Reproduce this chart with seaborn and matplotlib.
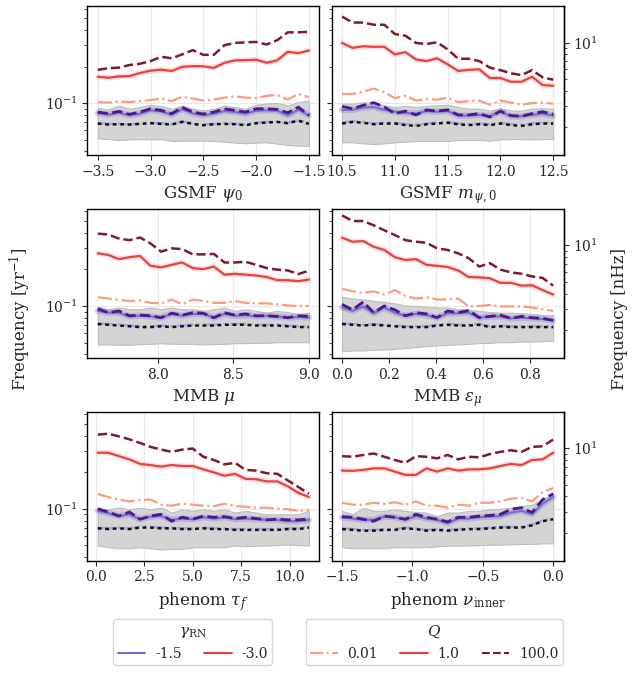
import numpy as np
import pandas as pd
import seaborn as sns
import matplotlib
matplotlib.use("Agg")
import matplotlib.pyplot as plt
from matplotlib.lines import Line2D

# ---------------- data (frequency in yr^-1) ----------------
psi0_x = [-3.5, -3.4, -3.3, -3.2, -3.1, -3.0, -2.9, -2.8, -2.7, -2.6, -2.5, -2.4, -2.3, -2.2, -2.1, -2.0, -1.9, -1.8, -1.7, -1.6, -1.5]
psi0_r100 = [0.188, 0.194, 0.196, 0.206, 0.211, 0.222, 0.241, 0.234, 0.252, 0.273, 0.250, 0.250, 0.300, 0.313, 0.317, 0.319, 0.304, 0.330, 0.383, 0.383, 0.387]
psi0_r1 = [0.165, 0.162, 0.166, 0.167, 0.177, 0.185, 0.189, 0.184, 0.199, 0.202, 0.201, 0.195, 0.215, 0.225, 0.226, 0.228, 0.215, 0.225, 0.265, 0.258, 0.271]
psi0_r001 = [0.102, 0.101, 0.103, 0.102, 0.104, 0.106, 0.109, 0.104, 0.113, 0.109, 0.105, 0.107, 0.111, 0.114, 0.111, 0.110, 0.115, 0.117, 0.107, 0.119, 0.112]
psi0_p100 = [0.0845, 0.0819, 0.0856, 0.0809, 0.0845, 0.0899, 0.0872, 0.0819, 0.0922, 0.0845, 0.0814, 0.0845, 0.0899, 0.0872, 0.0845, 0.0899, 0.0899, 0.0888, 0.0834, 0.0928, 0.0794]
psi0_p1 = [0.0829, 0.0803, 0.0834, 0.0794, 0.0819, 0.0872, 0.0856, 0.0803, 0.0889, 0.0824, 0.0794, 0.0819, 0.0861, 0.0845, 0.0819, 0.0866, 0.0872, 0.0866, 0.0794, 0.0883, 0.0794]
psi0_p001 = [0.0688, 0.0675, 0.0679, 0.0667, 0.0679, 0.0692, 0.0684, 0.0671, 0.0710, 0.0679, 0.0667, 0.0675, 0.0684, 0.0675, 0.0667, 0.0688, 0.0701, 0.0701, 0.0688, 0.0723, 0.0692]
psi0_base = [0.0679, 0.0667, 0.0671, 0.0667, 0.0675, 0.0684, 0.0675, 0.0667, 0.0701, 0.0675, 0.0658, 0.0671, 0.0675, 0.0671, 0.0658, 0.0684, 0.0692, 0.0701, 0.0684, 0.0718, 0.0675]
psi0_hi = [0.0911, 0.0888, 0.0957, 0.0899, 0.0928, 0.0969, 0.0945, 0.0899, 0.0957, 0.0899, 0.0872, 0.0899, 0.0957, 0.0928, 0.0899, 0.0969, 0.0994, 0.1006, 0.0957, 0.1019, 0.1051]
psi0_lo = [0.0513, 0.0506, 0.0497, 0.0503, 0.0506, 0.0503, 0.0506, 0.0488, 0.0491, 0.0491, 0.0491, 0.0488, 0.0482, 0.0473, 0.0467, 0.0473, 0.0476, 0.0464, 0.0453, 0.0447, 0.0444]

mpsi_x = [10.5, 10.6, 10.7, 10.8, 10.9, 11.0, 11.1, 11.2, 11.3, 11.4, 11.5, 11.6, 11.7, 11.8, 11.9, 12.0, 12.1, 12.2, 12.3, 12.4, 12.5]
mpsi_r100 = [0.516, 0.461, 0.461, 0.442, 0.442, 0.371, 0.359, 0.313, 0.307, 0.317, 0.277, 0.232, 0.232, 0.222, 0.196, 0.187, 0.176, 0.170, 0.187, 0.163, 0.156]
mpsi_r1 = [0.313, 0.285, 0.294, 0.291, 0.291, 0.252, 0.263, 0.229, 0.222, 0.234, 0.209, 0.184, 0.188, 0.190, 0.161, 0.161, 0.150, 0.150, 0.165, 0.141, 0.139]
mpsi_r001 = [0.119, 0.119, 0.124, 0.132, 0.123, 0.110, 0.115, 0.105, 0.108, 0.107, 0.111, 0.102, 0.104, 0.105, 0.097, 0.105, 0.101, 0.097, 0.100, 0.101, 0.099]
mpsi_p100 = [0.094, 0.090, 0.096, 0.101, 0.093, 0.082, 0.086, 0.080, 0.088, 0.086, 0.088, 0.080, 0.080, 0.082, 0.077, 0.086, 0.079, 0.078, 0.082, 0.085, 0.081]
mpsi_p1 = [0.088, 0.088, 0.092, 0.093, 0.088, 0.085, 0.083, 0.082, 0.086, 0.085, 0.086, 0.079, 0.079, 0.080, 0.078, 0.085, 0.078, 0.078, 0.080, 0.082, 0.079]
mpsi_base = [0.068, 0.070, 0.069, 0.067, 0.068, 0.068, 0.066, 0.065, 0.067, 0.068, 0.069, 0.067, 0.066, 0.067, 0.066, 0.068, 0.066, 0.065, 0.067, 0.068, 0.068]
mpsi_p001 = [0.069, 0.071, 0.070, 0.068, 0.069, 0.069, 0.067, 0.066, 0.068, 0.069, 0.070, 0.068, 0.067, 0.068, 0.067, 0.069, 0.067, 0.066, 0.068, 0.069, 0.069]
mpsi_hi = [0.099, 0.099, 0.102, 0.101, 0.096, 0.093, 0.095, 0.093, 0.095, 0.096, 0.097, 0.093, 0.090, 0.090, 0.087, 0.091, 0.087, 0.087, 0.090, 0.091, 0.090]
mpsi_lo = [0.0476, 0.0476, 0.0467, 0.0461, 0.0467, 0.0476, 0.0482, 0.0488, 0.0488, 0.0488, 0.0488, 0.0497, 0.0497, 0.0497, 0.0491, 0.0503, 0.0506, 0.0506, 0.0503, 0.0506, 0.0506]

mu_x = [7.6, 7.67, 7.74, 7.81, 7.88, 7.95, 8.02, 8.09, 8.16, 8.23, 8.3, 8.37, 8.44, 8.51, 8.58, 8.65, 8.72, 8.79, 8.86, 8.93, 9.0]
mu_r100 = [0.394, 0.387, 0.359, 0.348, 0.366, 0.327, 0.280, 0.298, 0.294, 0.266, 0.266, 0.268, 0.228, 0.228, 0.231, 0.218, 0.205, 0.199, 0.196, 0.183, 0.195]
mu_r1 = [0.271, 0.263, 0.243, 0.252, 0.258, 0.214, 0.208, 0.218, 0.228, 0.205, 0.201, 0.211, 0.181, 0.184, 0.181, 0.178, 0.173, 0.163, 0.163, 0.160, 0.165]
mu_r001 = [0.118, 0.115, 0.112, 0.110, 0.111, 0.106, 0.105, 0.113, 0.103, 0.113, 0.110, 0.106, 0.106, 0.110, 0.106, 0.105, 0.105, 0.103, 0.101, 0.100, 0.100]
mu_p100 = [0.095, 0.088, 0.091, 0.083, 0.084, 0.083, 0.080, 0.087, 0.084, 0.088, 0.087, 0.080, 0.088, 0.084, 0.086, 0.083, 0.083, 0.082, 0.080, 0.083, 0.082]
mu_p1 = [0.091, 0.088, 0.088, 0.082, 0.083, 0.082, 0.080, 0.086, 0.083, 0.086, 0.086, 0.080, 0.086, 0.083, 0.084, 0.082, 0.083, 0.082, 0.080, 0.081, 0.080]
mu_base = [0.071, 0.070, 0.069, 0.068, 0.067, 0.067, 0.068, 0.067, 0.068, 0.069, 0.069, 0.069, 0.070, 0.070, 0.070, 0.069, 0.069, 0.069, 0.068, 0.067, 0.067]
mu_p001 = [0.072, 0.071, 0.070, 0.069, 0.068, 0.068, 0.069, 0.068, 0.069, 0.070, 0.070, 0.070, 0.071, 0.071, 0.071, 0.070, 0.070, 0.070, 0.069, 0.068, 0.068]
mu_hi = [0.099, 0.094, 0.097, 0.094, 0.094, 0.097, 0.094, 0.097, 0.094, 0.094, 0.091, 0.094, 0.097, 0.091, 0.094, 0.091, 0.088, 0.091, 0.089, 0.086, 0.088]
mu_lo = [0.0482, 0.0482, 0.0479, 0.0479, 0.0485, 0.0488, 0.0494, 0.0488, 0.0488, 0.0488, 0.0482, 0.0485, 0.0488, 0.0494, 0.0494, 0.0497, 0.0497, 0.0503, 0.0503, 0.0503, 0.0503]

eps_x = [0.0, 0.045, 0.09, 0.135, 0.18, 0.225, 0.27, 0.315, 0.36, 0.405, 0.45, 0.495, 0.54, 0.585, 0.63, 0.675, 0.72, 0.765, 0.81, 0.855, 0.9]
eps_r100 = [0.556, 0.500, 0.500, 0.461, 0.420, 0.383, 0.348, 0.338, 0.331, 0.298, 0.289, 0.271, 0.247, 0.211, 0.225, 0.199, 0.189, 0.184, 0.175, 0.170, 0.147]
eps_r1 = [0.364, 0.338, 0.342, 0.307, 0.289, 0.252, 0.239, 0.243, 0.218, 0.214, 0.209, 0.196, 0.173, 0.172, 0.169, 0.155, 0.155, 0.147, 0.148, 0.135, 0.124]
eps_r001 = [0.138, 0.132, 0.128, 0.132, 0.124, 0.135, 0.121, 0.115, 0.118, 0.113, 0.113, 0.115, 0.099, 0.100, 0.102, 0.099, 0.099, 0.099, 0.097, 0.094, 0.091]
eps_p100 = [0.103, 0.093, 0.108, 0.088, 0.100, 0.093, 0.083, 0.088, 0.086, 0.080, 0.091, 0.088, 0.092, 0.080, 0.082, 0.084, 0.079, 0.082, 0.080, 0.079, 0.076]
eps_p1 = [0.097, 0.091, 0.099, 0.087, 0.097, 0.088, 0.083, 0.086, 0.084, 0.080, 0.087, 0.087, 0.088, 0.080, 0.082, 0.082, 0.079, 0.080, 0.079, 0.078, 0.076]
eps_base = [0.071, 0.070, 0.069, 0.070, 0.069, 0.068, 0.067, 0.067, 0.067, 0.069, 0.070, 0.069, 0.069, 0.070, 0.067, 0.068, 0.067, 0.067, 0.067, 0.067, 0.067]
eps_p001 = [0.072, 0.071, 0.070, 0.071, 0.070, 0.069, 0.068, 0.068, 0.068, 0.070, 0.071, 0.070, 0.070, 0.071, 0.068, 0.069, 0.068, 0.068, 0.068, 0.068, 0.068]
eps_hi = [0.119, 0.115, 0.113, 0.110, 0.108, 0.105, 0.101, 0.100, 0.099, 0.097, 0.097, 0.094, 0.093, 0.091, 0.089, 0.088, 0.088, 0.087, 0.086, 0.084, 0.084]
eps_lo = [0.0423, 0.0430, 0.0430, 0.0437, 0.0437, 0.0444, 0.0450, 0.0459, 0.0466, 0.0473, 0.0479, 0.0482, 0.0488, 0.0494, 0.0497, 0.0503, 0.0503, 0.0509, 0.0509, 0.0513, 0.0519]

tau_x = [0.1, 0.645, 1.19, 1.735, 2.28, 2.825, 3.37, 3.915, 4.46, 5.005, 5.55, 6.095, 6.64, 7.185, 7.73, 8.275, 8.82, 9.365, 9.91, 10.455, 11.0]
tau_r100 = [0.407, 0.415, 0.394, 0.373, 0.348, 0.323, 0.307, 0.294, 0.307, 0.313, 0.268, 0.252, 0.232, 0.239, 0.209, 0.206, 0.196, 0.194, 0.171, 0.151, 0.133]
tau_r1 = [0.289, 0.289, 0.271, 0.255, 0.234, 0.229, 0.222, 0.229, 0.225, 0.225, 0.211, 0.199, 0.187, 0.194, 0.176, 0.175, 0.168, 0.168, 0.153, 0.135, 0.125]
tau_r001 = [0.132, 0.125, 0.119, 0.115, 0.118, 0.119, 0.108, 0.106, 0.110, 0.108, 0.106, 0.105, 0.110, 0.105, 0.104, 0.102, 0.102, 0.100, 0.099, 0.096, 0.098]
tau_p100 = [0.100, 0.094, 0.087, 0.094, 0.082, 0.087, 0.090, 0.079, 0.085, 0.082, 0.087, 0.085, 0.086, 0.083, 0.085, 0.083, 0.081, 0.082, 0.081, 0.081, 0.082]
tau_p1 = [0.096, 0.092, 0.087, 0.090, 0.082, 0.086, 0.087, 0.081, 0.083, 0.082, 0.085, 0.083, 0.085, 0.082, 0.083, 0.082, 0.081, 0.081, 0.079, 0.079, 0.081]
tau_base = [0.069, 0.068, 0.069, 0.068, 0.070, 0.070, 0.069, 0.069, 0.068, 0.068, 0.069, 0.068, 0.068, 0.067, 0.067, 0.067, 0.067, 0.067, 0.068, 0.068, 0.070]
tau_p001 = [0.070, 0.069, 0.070, 0.069, 0.071, 0.071, 0.070, 0.070, 0.069, 0.069, 0.070, 0.069, 0.069, 0.068, 0.068, 0.068, 0.068, 0.068, 0.069, 0.069, 0.071]
tau_hi = [0.096, 0.099, 0.102, 0.099, 0.102, 0.099, 0.102, 0.093, 0.099, 0.096, 0.099, 0.096, 0.099, 0.093, 0.096, 0.093, 0.090, 0.090, 0.090, 0.090, 0.096]
tau_lo = [0.0497, 0.0482, 0.0473, 0.0473, 0.0482, 0.0473, 0.0461, 0.0467, 0.0467, 0.0482, 0.0482, 0.0482, 0.0482, 0.0497, 0.0491, 0.0497, 0.0497, 0.0503, 0.0506, 0.0503, 0.0497]

nu_x = [-1.5, -1.425, -1.35, -1.275, -1.2, -1.125, -1.05, -0.975, -0.9, -0.825, -0.75, -0.675, -0.6, -0.525, -0.45, -0.375, -0.3, -0.225, -0.15, -0.075, 0.0]
nu_r100 = [0.271, 0.268, 0.277, 0.285, 0.268, 0.252, 0.239, 0.271, 0.268, 0.260, 0.277, 0.255, 0.268, 0.265, 0.282, 0.294, 0.303, 0.294, 0.323, 0.327, 0.371]
nu_r1 = [0.206, 0.205, 0.209, 0.215, 0.215, 0.202, 0.190, 0.190, 0.215, 0.202, 0.215, 0.206, 0.211, 0.211, 0.215, 0.225, 0.234, 0.229, 0.252, 0.255, 0.289]
nu_r001 = [0.112, 0.108, 0.108, 0.112, 0.110, 0.113, 0.108, 0.115, 0.106, 0.106, 0.102, 0.108, 0.106, 0.112, 0.112, 0.115, 0.121, 0.123, 0.115, 0.137, 0.148]
nu_p100 = [0.086, 0.085, 0.082, 0.079, 0.087, 0.085, 0.082, 0.090, 0.085, 0.082, 0.078, 0.085, 0.085, 0.087, 0.088, 0.090, 0.099, 0.102, 0.093, 0.119, 0.133]
nu_p1 = [0.085, 0.083, 0.081, 0.081, 0.086, 0.085, 0.081, 0.087, 0.083, 0.081, 0.076, 0.083, 0.083, 0.085, 0.086, 0.087, 0.093, 0.096, 0.090, 0.110, 0.125]
nu_base = [0.068, 0.067, 0.066, 0.066, 0.067, 0.067, 0.069, 0.068, 0.066, 0.067, 0.066, 0.067, 0.068, 0.068, 0.069, 0.070, 0.070, 0.070, 0.073, 0.079, 0.082]
nu_p001 = [0.069, 0.068, 0.067, 0.067, 0.068, 0.068, 0.070, 0.069, 0.067, 0.068, 0.067, 0.068, 0.069, 0.069, 0.070, 0.071, 0.071, 0.071, 0.074, 0.080, 0.083]
nu_hi = [0.096, 0.090, 0.102, 0.096, 0.096, 0.099, 0.096, 0.094, 0.093, 0.087, 0.093, 0.093, 0.096, 0.096, 0.099, 0.100, 0.102, 0.105, 0.108, 0.119, 0.131]
nu_lo = [0.0482, 0.0473, 0.0473, 0.0473, 0.0473, 0.0482, 0.0482, 0.0482, 0.0482, 0.0491, 0.0497, 0.0497, 0.0497, 0.0503, 0.0506, 0.0506, 0.0509, 0.0513, 0.0513, 0.0519, 0.0519]

panel_labels = [r"GSMF $\psi_0$", r"GSMF $m_{\psi,0}$", r"MMB $\mu$", r"MMB $\epsilon_\mu$",
                r"phenom $\tau_f$", r"phenom $\nu_{\rm inner}$"]
gamma_labels = ["-1.5", "-3.0"]
q_labels = ["0.01", "1.0", "100.0"]
yr_major = [0.1]
yr_minor = [0.04, 0.05, 0.06, 0.07, 0.08, 0.09, 0.2, 0.3, 0.4, 0.5, 0.6]
nhz_major = [10]
nhz_minor = [2, 3, 4, 5, 6, 7, 8, 9]

panels = [
    (psi0_x, psi0_r100, psi0_r1, psi0_r001, psi0_p100, psi0_p1, psi0_p001, psi0_base, psi0_lo, psi0_hi),
    (mpsi_x, mpsi_r100, mpsi_r1, mpsi_r001, mpsi_p100, mpsi_p1, mpsi_p001, mpsi_base, mpsi_lo, mpsi_hi),
    (mu_x, mu_r100, mu_r1, mu_r001, mu_p100, mu_p1, mu_p001, mu_base, mu_lo, mu_hi),
    (eps_x, eps_r100, eps_r1, eps_r001, eps_p100, eps_p1, eps_p001, eps_base, eps_lo, eps_hi),
    (tau_x, tau_r100, tau_r1, tau_r001, tau_p100, tau_p1, tau_p001, tau_base, tau_lo, tau_hi),
    (nu_x, nu_r100, nu_r1, nu_r001, nu_p100, nu_p1, nu_p001, nu_base, nu_lo, nu_hi),
]

# ---------------- styling ----------------
sns.set_style("ticks")
plt.rcParams["font.family"] = ["DejaVu Serif"]
plt.rcParams["mathtext.fontset"] = "dejavuserif"
plt.rcParams["axes.linewidth"] = 1.0

C_R100 = "#7d1a2c"
C_R1 = "#e8423c"
C_R001 = "#fc9b7e"
C_P100 = "#4b1890"
C_P1 = "#7a6ccc"
C_P001 = "#aca5de"
YR_TO_NHZ = 31.69

fig, axes = plt.subplots(3, 2, figsize=(6.32, 6.74), dpi=100, sharey=True)
fig.subplots_adjust(left=0.138, right=0.892, top=0.991, bottom=0.168, wspace=0.052, hspace=0.36)

for i, (ax, p) in enumerate(zip(axes.flat, panels)):
    x, r100, r1, r001, p100, p1, p001, base, lo, hi = p
    ax.fill_between(x, lo, hi, color="#d4d4d4", edgecolor="#bdbdbd", lw=0.8, zorder=1)
    # faint uncertainty halos behind the Q=1 lines
    sns.lineplot(x=x, y=p1, ax=ax, color=C_P1, lw=4.5, alpha=0.3, zorder=2)
    sns.lineplot(x=x, y=r1, ax=ax, color=C_R1, lw=4.0, alpha=0.15, zorder=2)
    sns.lineplot(x=x, y=p001, ax=ax, color=C_P001, lw=1.8, linestyle="-.", zorder=3)
    sns.lineplot(x=x, y=base, ax=ax, color="#111111", lw=1.8, linestyle=(0, (1.5, 1.5)), zorder=4)
    sns.lineplot(x=x, y=p1, ax=ax, color=C_P1, lw=1.5, zorder=4)
    sns.lineplot(x=x, y=p100, ax=ax, color=C_P100, lw=2.0, linestyle="--", zorder=5)
    sns.lineplot(x=x, y=r001, ax=ax, color=C_R001, lw=1.6, linestyle="-.", zorder=4)
    sns.lineplot(x=x, y=r1, ax=ax, color=C_R1, lw=1.6, zorder=4)
    sns.lineplot(x=x, y=r100, ax=ax, color=C_R100, lw=1.8, linestyle="--", zorder=5)
    ax.set_yscale("log")
    ax.set_ylim(0.0373, 0.63)
    ax.set_yticks(yr_major, [r"$10^{-1}$"])
    ax.set_yticks(yr_minor, [""] * len(yr_minor), minor=True)
    ax.set_xlabel(panel_labels[i], fontsize=12)
    ax.set_ylabel("")
    ax.tick_params(axis="both", labelsize=10)
    if i % 2 == 1:
        ax.tick_params(axis="y", which="both", labelleft=False)
    ax.grid(True, which="major", color="#e9e9e9", lw=0.8, zorder=0)
    ax.set_axisbelow(True)
    for s in ax.spines.values():
        s.set_visible(True)
        s.set_color("black")
    if i % 2 == 1:
        sec = ax.secondary_yaxis("right", functions=(lambda f: f * YR_TO_NHZ, lambda f: f / YR_TO_NHZ))
        sec.set_yticks(nhz_major, [r"$10^{1}$"])
        sec.set_yticks(nhz_minor, [""] * len(nhz_minor), minor=True)
        sec.tick_params(labelsize=10)

fig.text(0.032, 0.527, r"Frequency [yr$^{-1}$]", rotation=90, ha="center", va="center", fontsize=12)
fig.text(0.981, 0.527, "Frequency [nHz]", rotation=90, ha="center", va="center", fontsize=12)

h_gamma = [Line2D([], [], color=C_P1, lw=1.5), Line2D([], [], color=C_R1, lw=1.5)]
h_q = [Line2D([], [], color=C_R001, lw=1.5, linestyle="-."),
       Line2D([], [], color=C_R1, lw=1.5),
       Line2D([], [], color=C_R100, lw=1.5, linestyle="--")]
leg1 = fig.legend(h_gamma, gamma_labels, title=r"$\gamma_{\rm RN}$", ncol=2, loc="upper center",
                  bbox_to_anchor=(0.305, 0.081), fontsize=10, title_fontsize=11, columnspacing=1.6,
                  borderaxespad=0.0, borderpad=0.3, handletextpad=0.7)
leg2 = fig.legend(h_q, q_labels, title=r"$Q$", ncol=3, loc="upper center",
                  bbox_to_anchor=(0.687, 0.081), fontsize=10, title_fontsize=11, columnspacing=1.6,
                  borderaxespad=0.0, borderpad=0.3, handletextpad=0.7)

fig.savefig("out.png", dpi=100)
